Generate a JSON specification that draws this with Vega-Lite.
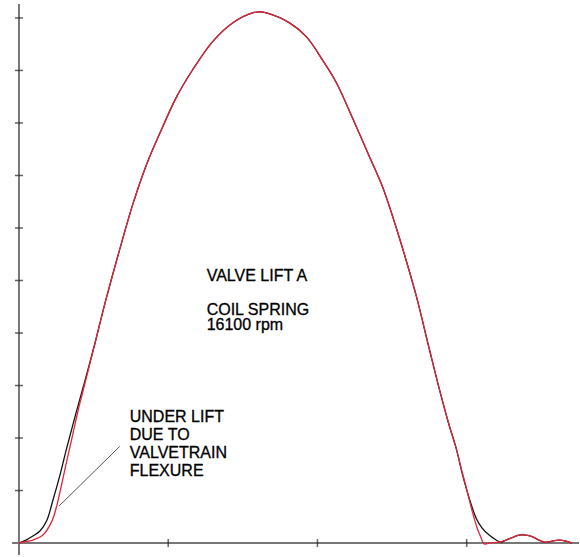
{
  "$schema": "https://vega.github.io/schema/vega-lite/v6.json",
  "width": 580,
  "height": 557,
  "autosize": {"type": "fit", "contains": "padding"},
  "padding": 0,
  "background": "white",
  "config": {"view": {"stroke": null}},
  "datasets": {
    "xAxisLine": [{"angle": -2.34, "angle2": 187.63, "lift": 0}],
    "yAxisLine": [{"angle": 0, "lift": -0.228, "lift2": 10.266}],
    "xTicks": [{"angle": 50}, {"angle": 100}, {"angle": 150}],
    "yTicks": [{"lift": 1}, {"lift": 2}, {"lift": 3}, {"lift": 4}, {"lift": 5}, {"lift": 6}, {"lift": 7}, {"lift": 8}, {"lift": 9}, {"lift": 10}],
    "curves": [
      {"series": "static", "angle": 0, "lift": 0},
      {"series": "static", "angle": 2.34, "lift": 0.057},
      {"series": "static", "angle": 4.68, "lift": 0.133},
      {"series": "static", "angle": 7.02, "lift": 0.228},
      {"series": "static", "angle": 9.36, "lift": 0.436},
      {"series": "static", "angle": 11.37, "lift": 0.816},
      {"series": "static", "angle": 13.71, "lift": 1.29},
      {"series": "static", "angle": 16.05, "lift": 1.822},
      {"series": "static", "angle": 18.9, "lift": 2.43},
      {"series": "static", "angle": 22.2, "lift": 3.112},
      {"series": "static", "angle": 25.42, "lift": 3.795},
      {"series": "static", "angle": 28.76, "lift": 4.554},
      {"series": "static", "angle": 33.78, "lift": 5.598},
      {"series": "static", "angle": 38.13, "lift": 6.45},
      {"series": "static", "angle": 42.81, "lift": 7.22},
      {"series": "static", "angle": 47.16, "lift": 7.8},
      {"series": "static", "angle": 52.84, "lift": 8.501},
      {"series": "static", "angle": 58.19, "lift": 9.013},
      {"series": "static", "angle": 64.88, "lift": 9.55},
      {"series": "static", "angle": 71.57, "lift": 9.905},
      {"series": "static", "angle": 78.26, "lift": 10.095},
      {"series": "static", "angle": 80.6, "lift": 10.114},
      {"series": "static", "angle": 82.94, "lift": 10.095},
      {"series": "static", "angle": 90.64, "lift": 9.905},
      {"series": "static", "angle": 96.32, "lift": 9.639},
      {"series": "static", "angle": 101.67, "lift": 9.203},
      {"series": "static", "angle": 106.35, "lift": 8.767},
      {"series": "static", "angle": 111.71, "lift": 8.1},
      {"series": "static", "angle": 117.39, "lift": 7.362},
      {"series": "static", "angle": 121.74, "lift": 6.793},
      {"series": "static", "angle": 126.42, "lift": 6.0},
      {"series": "static", "angle": 129.1, "lift": 5.503},
      {"series": "static", "angle": 133.11, "lift": 4.706},
      {"series": "static", "angle": 137.46, "lift": 3.7},
      {"series": "static", "angle": 140.8, "lift": 2.941},
      {"series": "static", "angle": 144.15, "lift": 2.239},
      {"series": "static", "angle": 146.49, "lift": 1.803},
      {"series": "static", "angle": 148.49, "lift": 1.328},
      {"series": "static", "angle": 150.84, "lift": 0.854},
      {"series": "static", "angle": 153.18, "lift": 0.474},
      {"series": "static", "angle": 155.18, "lift": 0.285},
      {"series": "static", "angle": 157.53, "lift": 0.152},
      {"series": "static", "angle": 159.87, "lift": 0.057},
      {"series": "static", "angle": 161.54, "lift": 0.019},
      {"series": "static", "angle": 163.21, "lift": 0.057},
      {"series": "static", "angle": 165.22, "lift": 0.104},
      {"series": "static", "angle": 167.56, "lift": 0.152},
      {"series": "static", "angle": 169.9, "lift": 0.152},
      {"series": "static", "angle": 171.91, "lift": 0.123},
      {"series": "static", "angle": 174.25, "lift": 0.057},
      {"series": "static", "angle": 175.92, "lift": 0.019},
      {"series": "static", "angle": 177.26, "lift": 0.019},
      {"series": "static", "angle": 178.6, "lift": 0.038},
      {"series": "static", "angle": 180.94, "lift": 0.057},
      {"series": "static", "angle": 183.28, "lift": 0.038},
      {"series": "static", "angle": 185.28, "lift": 0},
      {"series": "dynamic", "angle": 0, "lift": 0},
      {"series": "dynamic", "angle": 1.34, "lift": 0.019},
      {"series": "dynamic", "angle": 4.68, "lift": 0.057},
      {"series": "dynamic", "angle": 8.03, "lift": 0.152},
      {"series": "dynamic", "angle": 11.04, "lift": 0.417},
      {"series": "dynamic", "angle": 12.71, "lift": 0.721},
      {"series": "dynamic", "angle": 14.38, "lift": 1.139},
      {"series": "dynamic", "angle": 16.05, "lift": 1.575},
      {"series": "dynamic", "angle": 17.73, "lift": 1.992},
      {"series": "dynamic", "angle": 19.73, "lift": 2.505},
      {"series": "dynamic", "angle": 22.41, "lift": 3.112},
      {"series": "dynamic", "angle": 25.42, "lift": 3.795},
      {"series": "dynamic", "angle": 28.76, "lift": 4.554},
      {"series": "dynamic", "angle": 33.78, "lift": 5.598},
      {"series": "dynamic", "angle": 38.13, "lift": 6.45},
      {"series": "dynamic", "angle": 42.81, "lift": 7.22},
      {"series": "dynamic", "angle": 47.16, "lift": 7.8},
      {"series": "dynamic", "angle": 52.84, "lift": 8.501},
      {"series": "dynamic", "angle": 58.19, "lift": 9.013},
      {"series": "dynamic", "angle": 64.88, "lift": 9.55},
      {"series": "dynamic", "angle": 71.57, "lift": 9.905},
      {"series": "dynamic", "angle": 78.26, "lift": 10.095},
      {"series": "dynamic", "angle": 80.6, "lift": 10.114},
      {"series": "dynamic", "angle": 82.94, "lift": 10.095},
      {"series": "dynamic", "angle": 90.64, "lift": 9.905},
      {"series": "dynamic", "angle": 96.32, "lift": 9.639},
      {"series": "dynamic", "angle": 101.67, "lift": 9.203},
      {"series": "dynamic", "angle": 106.35, "lift": 8.767},
      {"series": "dynamic", "angle": 111.71, "lift": 8.1},
      {"series": "dynamic", "angle": 117.39, "lift": 7.362},
      {"series": "dynamic", "angle": 121.74, "lift": 6.793},
      {"series": "dynamic", "angle": 126.42, "lift": 6.0},
      {"series": "dynamic", "angle": 129.1, "lift": 5.503},
      {"series": "dynamic", "angle": 133.11, "lift": 4.706},
      {"series": "dynamic", "angle": 137.46, "lift": 3.7},
      {"series": "dynamic", "angle": 140.8, "lift": 2.941},
      {"series": "dynamic", "angle": 144.15, "lift": 2.239},
      {"series": "dynamic", "angle": 146.49, "lift": 1.803},
      {"series": "dynamic", "angle": 148.16, "lift": 1.423},
      {"series": "dynamic", "angle": 150.17, "lift": 0.987},
      {"series": "dynamic", "angle": 151.84, "lift": 0.607},
      {"series": "dynamic", "angle": 153.51, "lift": 0.285},
      {"series": "dynamic", "angle": 154.85, "lift": 0.095},
      {"series": "dynamic", "angle": 155.85, "lift": -0.019},
      {"series": "dynamic", "angle": 157.53, "lift": 0},
      {"series": "dynamic", "angle": 160.87, "lift": 0.019},
      {"series": "dynamic", "angle": 163.21, "lift": 0.057},
      {"series": "dynamic", "angle": 165.22, "lift": 0.104},
      {"series": "dynamic", "angle": 167.56, "lift": 0.152},
      {"series": "dynamic", "angle": 169.9, "lift": 0.152},
      {"series": "dynamic", "angle": 171.91, "lift": 0.123},
      {"series": "dynamic", "angle": 174.25, "lift": 0.057},
      {"series": "dynamic", "angle": 175.92, "lift": 0.019},
      {"series": "dynamic", "angle": 177.26, "lift": 0.019},
      {"series": "dynamic", "angle": 178.6, "lift": 0.038},
      {"series": "dynamic", "angle": 180.94, "lift": 0.057},
      {"series": "dynamic", "angle": 183.28, "lift": 0.038},
      {"series": "dynamic", "angle": 185.28, "lift": 0}
    ],
    "leader": [{"angle": 33.78, "lift": 1.841, "angle2": 13.38, "lift2": 0.702}],
    "notes": [
      {"label": "VALVE LIFT A", "angle": 62.88, "lift": 4.99},
      {"label": "COIL SPRING", "angle": 62.88, "lift": 4.345},
      {"label": "16100 rpm", "angle": 62.88, "lift": 4.06},
      {"label": "UNDER LIFT", "angle": 37.12, "lift": 2.296},
      {"label": "DUE TO", "angle": 37.12, "lift": 1.954},
      {"label": "VALVETRAIN", "angle": 37.12, "lift": 1.613},
      {"label": "FLEXURE", "angle": 37.12, "lift": 1.271}
    ]
  },
  "layer": [
    {
      "data": {"name": "xAxisLine"},
      "mark": {"type": "rule", "color": "#777777", "strokeWidth": 2},
      "encoding": {
        "x": {"field": "angle", "type": "quantitative", "scale": {"domain": [-6.355, 187.63], "nice": false, "zero": false}, "axis": null},
        "x2": {"field": "angle2"},
        "y": {"field": "lift", "type": "quantitative", "scale": {"domain": [-0.2277, 10.3416], "nice": false, "zero": false}, "axis": null}
      }
    },
    {
      "data": {"name": "yAxisLine"},
      "mark": {"type": "rule", "color": "#777777", "strokeWidth": 2},
      "encoding": {
        "x": {"field": "angle", "type": "quantitative", "scale": {"domain": [-6.355, 187.63], "nice": false, "zero": false}, "axis": null},
        "y": {"field": "lift", "type": "quantitative", "scale": {"domain": [-0.2277, 10.3416], "nice": false, "zero": false}, "axis": null},
        "y2": {"field": "lift2"}
      }
    },
    {
      "data": {"name": "xTicks"},
      "mark": {"type": "tick", "orient": "vertical", "size": 8, "thickness": 1.5, "color": "#222222"},
      "encoding": {
        "x": {"field": "angle", "type": "quantitative", "scale": {"domain": [-6.355, 187.63], "nice": false, "zero": false}, "axis": null},
        "y": {"datum": 0, "type": "quantitative", "scale": {"domain": [-0.2277, 10.3416], "nice": false, "zero": false}, "axis": null}
      }
    },
    {
      "data": {"name": "yTicks"},
      "mark": {"type": "tick", "orient": "horizontal", "size": 8, "thickness": 1.5, "color": "#222222"},
      "encoding": {
        "x": {"datum": 0, "type": "quantitative", "scale": {"domain": [-6.355, 187.63], "nice": false, "zero": false}, "axis": null},
        "y": {"field": "lift", "type": "quantitative", "scale": {"domain": [-0.2277, 10.3416], "nice": false, "zero": false}, "axis": null}
      }
    },
    {
      "data": {"name": "curves"},
      "mark": {"type": "line", "strokeWidth": 1.3, "interpolate": "catmull-rom"},
      "encoding": {
        "x": {"field": "angle", "type": "quantitative", "scale": {"domain": [-6.355, 187.63], "nice": false, "zero": false}, "axis": null},
        "y": {"field": "lift", "type": "quantitative", "scale": {"domain": [-0.2277, 10.3416], "nice": false, "zero": false}, "axis": null},
        "color": {"field": "series", "type": "nominal", "scale": {"domain": ["static", "dynamic"], "range": ["#111111", "#e3263a"]}, "legend": null},
        "order": {"field": "series", "sort": "descending"}
      }
    },
    {
      "data": {"name": "leader"},
      "mark": {"type": "rule", "color": "#555555", "strokeWidth": 1},
      "encoding": {
        "x": {"field": "angle", "type": "quantitative", "scale": {"domain": [-6.355, 187.63], "nice": false, "zero": false}, "axis": null},
        "y": {"field": "lift", "type": "quantitative", "scale": {"domain": [-0.2277, 10.3416], "nice": false, "zero": false}, "axis": null},
        "x2": {"field": "angle2"},
        "y2": {"field": "lift2"}
      }
    },
    {
      "data": {"name": "notes"},
      "mark": {"type": "text", "align": "left", "baseline": "alphabetic", "font": "Liberation Sans", "fontSize": 16, "color": "#000000", "stroke": "#000000", "strokeWidth": 0.3},
      "encoding": {
        "x": {"field": "angle", "type": "quantitative", "scale": {"domain": [-6.355, 187.63], "nice": false, "zero": false}, "axis": null},
        "y": {"field": "lift", "type": "quantitative", "scale": {"domain": [-0.2277, 10.3416], "nice": false, "zero": false}, "axis": null},
        "text": {"field": "label", "type": "nominal"}
      }
    }
  ]
}
